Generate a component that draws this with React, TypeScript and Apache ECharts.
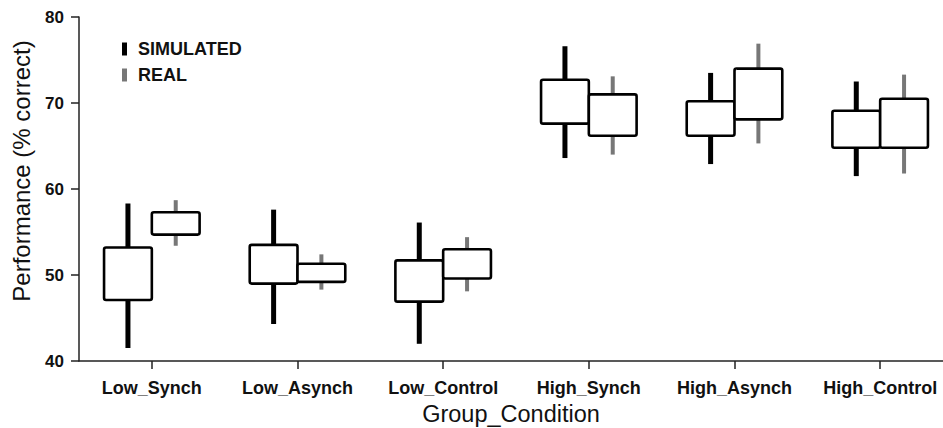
import React, { useEffect, useRef } from "react";
import * as echarts from "echarts";

const categories = ["Low_Synch", "Low_Asynch", "Low_Control", "High_Synch", "High_Asynch", "High_Control"];
const simLow = [41.5, 44.3, 42.0, 63.6, 62.9, 61.5];
const simQ1 = [47.1, 49.0, 46.9, 67.6, 66.2, 64.8];
const simQ3 = [53.2, 53.5, 51.7, 72.7, 70.2, 69.1];
const simHigh = [58.3, 57.6, 56.1, 76.6, 73.5, 72.5];
const realLow = [53.4, 48.3, 48.1, 64.0, 65.3, 61.8];
const realQ1 = [54.7, 49.2, 49.6, 66.2, 68.1, 64.8];
const realQ3 = [57.3, 51.3, 53.0, 71.0, 74.0, 70.5];
const realHigh = [58.7, 52.4, 54.4, 73.1, 76.9, 73.3];
const yTicks = [40, 50, 60, 70, 80];

const FONT = "'Liberation Sans', Arial, Helvetica, sans-serif";

function makeSeries(name: string, color: string, side: number, whiskerW: number,
  low: number[], q1: number[], q3: number[], high: number[]) {
  return {
    type: "custom",
    name,
    itemStyle: { color },
    encode: { x: 0, y: [1, 2, 3, 4] },
    data: categories.map((_, i) => [i, low[i], q1[i], q3[i], high[i]]),
    renderItem: (params: any, api: any) => {
      const cat = api.value(0);
      const band = api.size([1, 0])[0];
      const boxW = band * 0.328;
      const center = api.coord([cat, yTicks[0]])[0];
      const cx = center + side * boxW / 2;
      const yLow = api.coord([cat, api.value(1)])[1];
      const yQ1 = api.coord([cat, api.value(2)])[1];
      const yQ3 = api.coord([cat, api.value(3)])[1];
      const yHigh = api.coord([cat, api.value(4)])[1];
      return {
        type: "group",
        children: [
          {
            type: "line",
            shape: { x1: cx, y1: yHigh, x2: cx, y2: yLow },
            style: { stroke: color, lineWidth: whiskerW },
          },
          {
            type: "rect",
            shape: { x: cx - boxW / 2, y: yQ3, width: boxW, height: yQ1 - yQ3, r: 2 },
            style: { fill: "#ffffff", stroke: "#000000", lineWidth: 2.6 },
          },
        ],
      };
    },
  };
}

export default function App() {
  const ref = useRef<HTMLDivElement>(null);
  useEffect(() => {
    if (!ref.current) return;
    const chart = echarts.init(ref.current, null, { renderer: "svg" });
    chart.setOption({
      animation: false,
      backgroundColor: "#ffffff",
      grid: { left: 79, top: 17, bottom: 67, right: -10, containLabel: false, outerBoundsMode: "none" },
      legend: {
        orient: "vertical",
        left: 117,
        top: 35,
        itemWidth: 5,
        itemHeight: 13,
        itemGap: 8,
        textStyle: {
          fontFamily: FONT,
          fontWeight: "bold",
          fontSize: 18,
          color: "#111",
          padding: [3, 0, 0, 6],
        },
        data: [
          { name: "SIMULATED", icon: "rect", itemStyle: { color: "#000000" } },
          { name: "REAL", icon: "rect", itemStyle: { color: "#777777" } },
        ],
      },
      xAxis: {
        type: "category",
        data: categories,
        boundaryGap: true,
        name: "Group_Condition",
        nameLocation: "middle",
        nameGap: 35,
        nameTextStyle: { fontFamily: FONT, fontSize: 23.5, color: "#111", padding: [0, 10, 0, 0] },
        axisLine: { show: true, lineStyle: { color: "#222", width: 1.5 } },
        axisTick: { show: true, alignWithLabel: true, interval: 0, length: 8, lineStyle: { color: "#222", width: 1.5 } },
        axisLabel: { interval: 0, fontFamily: FONT, fontWeight: "bold", fontSize: 18, color: "#111", margin: 18 },
        splitLine: { show: false },
      },
      yAxis: {
        type: "value",
        min: yTicks[0],
        max: yTicks[yTicks.length - 1],
        interval: 10,
        name: "Performance (% correct)",
        nameLocation: "middle",
        nameRotate: 90,
        nameGap: 46,
        nameTextStyle: { fontFamily: FONT, fontSize: 24, color: "#111", padding: [0, 0, 0, 36] },
        axisLine: { show: true, lineStyle: { color: "#222", width: 1.5 } },
        axisTick: { show: true, length: 8, lineStyle: { color: "#222", width: 1.5 } },
        axisLabel: { fontFamily: FONT, fontWeight: "bold", fontSize: 17, color: "#111", margin: 15 },
        splitLine: { show: false },
      },
      series: [
        makeSeries("SIMULATED", "#000000", -1, 5, simLow, simQ1, simQ3, simHigh),
        makeSeries("REAL", "#777777", 1, 4, realLow, realQ1, realQ3, realHigh),
      ],
    });
    return () => chart.dispose();
  }, []);
  return (
    <div
      ref={ref}
      style={{ position: "fixed", left: 0, top: 0, width: 943, height: 428, background: "#fff" }}
    />
  );
}
